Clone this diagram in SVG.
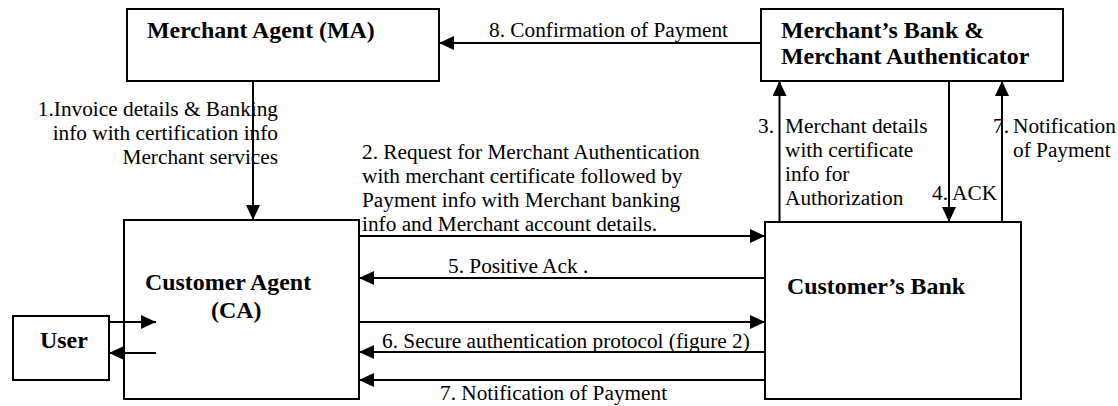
<svg xmlns="http://www.w3.org/2000/svg" width="1118" height="406" viewBox="0 0 1118 406">
<defs>
<marker id="ah" markerUnits="userSpaceOnUse" markerWidth="15" markerHeight="14" refX="15" refY="7" orient="auto">
<path d="M0,0 L15,7 L0,14 z" fill="#000"/>
</marker>
<style>
.box{fill:#fff;stroke:#000;stroke-width:2}
.b{font-family:"Liberation Serif","Times New Roman",serif;font-weight:bold;font-size:23.9px;fill:#000}
.t{font-family:"Liberation Serif","Times New Roman",serif;font-size:21.3px;fill:#000}
.c{stroke:#000;stroke-width:2;fill:none}
.a{stroke:#000;stroke-width:2;fill:none;marker-end:url(#ah)}
</style>
</defs>
<rect width="1118" height="406" fill="#fff"/>
<g id="ma">
<rect class="box" x="127" y="9" width="312" height="72"/>
<text class="b" x="147" y="38">Merchant Agent (MA)</text>
</g>
<g id="mb">
<rect class="box" x="761" y="9" width="302" height="72"/>
<text class="b" x="781" y="38">Merchant’s Bank &amp;</text>
<text class="b" x="781" y="64">Merchant Authenticator</text>
</g>
<g id="ca">
<rect class="box" x="124" y="220" width="235" height="179"/>
<text class="b" x="145" y="290">Customer Agent</text>
<text class="b" x="211" y="318">(CA)</text>
</g>
<g id="user">
<rect class="box" x="13" y="316" width="96" height="64"/>
<text class="b" x="40" y="348">User</text>
</g>
<g id="cb">
<rect class="box" x="765" y="222" width="256" height="177"/>
<text class="b" x="787" y="294">Customer’s Bank</text>
</g>
<g id="connectors">
<line class="a" x1="761" y1="43" x2="439" y2="43"/>
<line class="a" x1="253" y1="81" x2="253" y2="220"/>
<line class="a" x1="359" y1="236" x2="765" y2="236"/>
<line class="a" x1="765" y1="278" x2="359" y2="278"/>
<line class="a" x1="359" y1="322" x2="765" y2="322"/>
<line class="a" x1="765" y1="352" x2="359" y2="352"/>
<line class="a" x1="765" y1="380" x2="359" y2="380"/>
<line class="a" x1="109" y1="322" x2="156" y2="322"/>
<line class="a" x1="156" y1="353" x2="109" y2="353"/>
<line class="a" x1="779.5" y1="222" x2="779.5" y2="81"/>
<line class="a" x1="949" y1="81" x2="949" y2="222"/>
<line class="a" x1="1002" y1="222" x2="1002" y2="81"/>
</g>
<g id="labels">
<text class="t" x="489" y="37">8. Confirmation of Payment</text>
<text class="t" text-anchor="end" x="278" y="116">1.Invoice details &amp; Banking</text>
<text class="t" text-anchor="end" x="278" y="140">info with certification info</text>
<text class="t" text-anchor="end" x="278" y="164">Merchant services</text>
<text class="t" x="362" y="159">2. Request for Merchant Authentication</text>
<text class="t" x="362" y="183">with merchant certificate followed by</text>
<text class="t" x="362" y="207">Payment info with Merchant banking</text>
<text class="t" x="362" y="231">info and Merchant account details.</text>
<text class="t" x="448" y="273">5. Positive Ack .</text>
<text class="t" x="382" y="348">6. Secure authentication protocol (figure 2)</text>
<text class="t" x="440" y="400">7. Notification of Payment</text>
<text class="t" x="758" y="133">3.</text>
<text class="t" x="785" y="133">Merchant details</text>
<text class="t" x="785" y="157">with certificate</text>
<text class="t" x="785" y="181">info for</text>
<text class="t" x="785" y="205">Authorization</text>
<text class="t" x="932" y="200">4. ACK</text>
<text class="t" x="993" y="133">7.</text>
<text class="t" x="1013" y="133">Notification</text>
<text class="t" x="1013" y="157">of Payment</text>
</g>
</svg>
